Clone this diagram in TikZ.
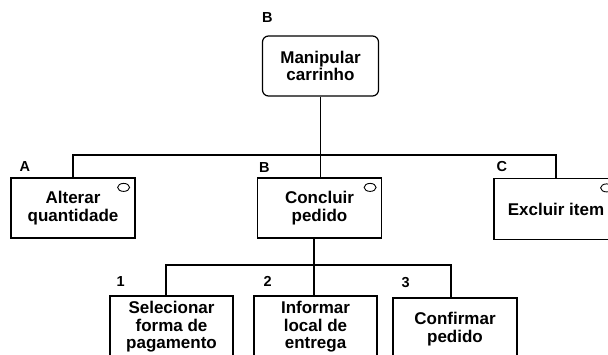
\documentclass[tikz,border=0pt]{standalone}
\usepackage{fontspec}
\setmainfont{Liberation Sans}
\usetikzlibrary{positioning}

\tikzset{
  tarefa/.style={draw, line width=1.2pt, minimum width=124pt, minimum height=60pt,
    align=center, inner sep=0pt, font=\bfseries\fontsize{17}{17.5}\selectfont},
  raiz/.style={tarefa, rounded corners=6pt, minimum width=116pt},
  rotulo/.style={anchor=base west, inner sep=0pt, font=\bfseries\fontsize{14.5}{14.5}\selectfont},
  liga/.style={line width=1.2pt},
  marca/.style={line width=0.9pt}
}

\begin{document}
\begin{tikzpicture}[x=1pt, y=-1pt]
  \useasboundingbox (0,0) rectangle (608,355);
  \clip (0,0) rectangle (608,355);

  % raiz
  \node[raiz] (manip) at (320.5,66) {Manipular\\carrinho};

  % primeiro nivel
  \node[tarefa] (alterar) at (73,208) {Alterar\\quantidade};
  \node[tarefa] (concluir) at (319.5,208) {Concluir\\pedido};
  \node[tarefa, minimum height=61pt] (excluir) at (556,209) {Excluir item};

  % segundo nivel
  \node[tarefa, minimum width=123pt, minimum height=62pt] (selecionar) at (171.5,327) {Selecionar\\forma de\\pagamento};
  \node[tarefa, minimum width=123pt, minimum height=62pt] (informar) at (315.5,327) {Informar\\local de\\entrega};
  \node[tarefa, minimum height=62pt] (confirmar) at (455,329) {Confirmar\\pedido};

  % rotulos
  \node[rotulo] (rManip) at ([xshift=0pt, yshift=13pt]manip.north west) {B};
  \node[rotulo] (rAlterar) at ([xshift=9pt, yshift=6pt]alterar.north west) {A};
  \node[rotulo] (rConcluir) at ([xshift=2pt, yshift=5pt]concluir.north west) {B};
  \node[rotulo] (rExcluir) at ([xshift=3pt, yshift=6pt]excluir.north west) {C};
  \node[rotulo] (rSel) at ([xshift=7pt, yshift=9pt]selecionar.north west) {1};
  \node[rotulo] (rInf) at ([xshift=10pt, yshift=9pt]informar.north west) {2};
  \node[rotulo] (rConf) at ([xshift=9pt, yshift=10pt]confirmar.north west) {3};

  % marcas
  \foreach \n in {alterar, concluir, excluir}
    \draw[marca] ([xshift=-12pt, yshift=-10pt]\n.north east) ellipse (6 and 4);

  % ligacoes
  \coordinate (nivel1) at (0,155);
  \coordinate (nivel2) at (0,265);
  \coordinate (eixo) at (314,0);
  \draw[liga] (manip.south) -- (manip.south |- concluir.north);
  \draw[liga] (alterar.north) |- (manip.south |- nivel1) -| (excluir.north);
  \draw[liga] (eixo |- concluir.south) -- (eixo |- informar.north);
  \draw[liga] ([xshift=-5.5pt]selecionar.north) |- (eixo |- nivel2) -| ([xshift=-4pt]confirmar.north);
\end{tikzpicture}
\end{document}
